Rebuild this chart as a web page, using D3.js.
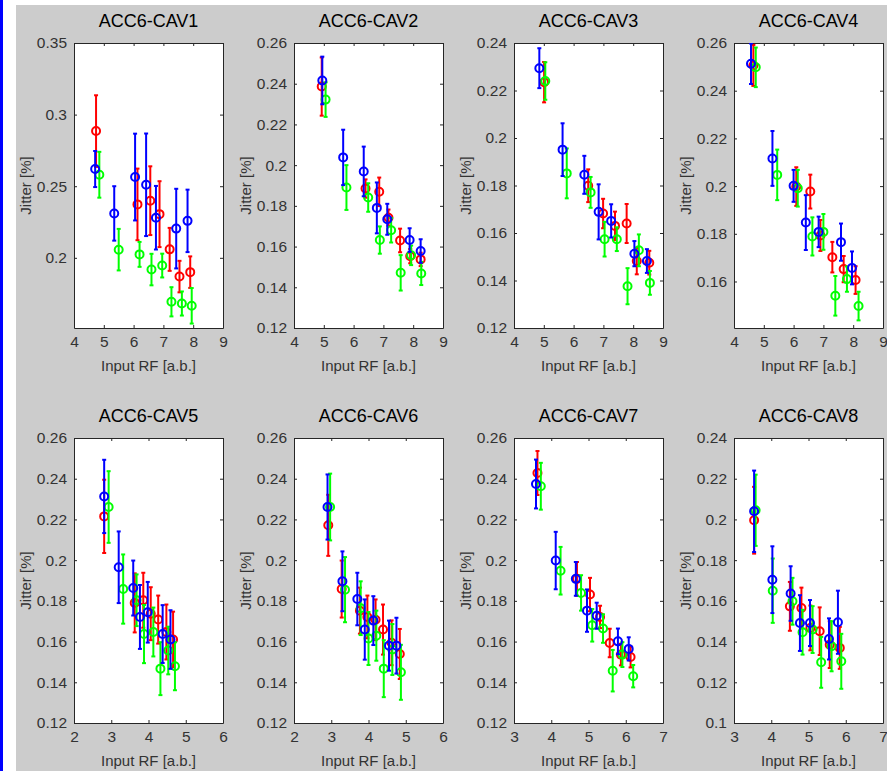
<!DOCTYPE html>
<html>
<head>
<meta charset="utf-8">
<script src="https://cdn.jsdelivr.net/npm/d3@7"></script>
<style>
  html, body { margin: 0; padding: 0; background: #fff; overflow: hidden; }
  svg { display: block; font-family: "Liberation Sans", Arial, sans-serif; }
</style>
</head>
<body>
<div id="fig"></div>
<script>
// panel titles, axis ranges and ticks
var titles = ["ACC6-CAV1", "ACC6-CAV2", "ACC6-CAV3", "ACC6-CAV4",
              "ACC6-CAV5", "ACC6-CAV6", "ACC6-CAV7", "ACC6-CAV8"];
var xDomains = [[4, 9], [4, 9], [4, 9], [4, 9], [2, 6], [2, 6], [3, 7], [3, 7]];
var xTicks = [[4, 5, 6, 7, 8, 9], [4, 5, 6, 7, 8, 9], [4, 5, 6, 7, 8, 9], [4, 5, 6, 7, 8, 9],
              [2, 3, 4, 5, 6], [2, 3, 4, 5, 6], [3, 4, 5, 6, 7], [3, 4, 5, 6, 7]];
var yDomains = [[0.151, 0.35], [0.12, 0.26], [0.12, 0.24], [0.1405, 0.26],
                [0.12, 0.26], [0.12, 0.26], [0.12, 0.26], [0.1, 0.24]];
var yTicks = [[0.2, 0.25, 0.3, 0.35],
              [0.12, 0.14, 0.16, 0.18, 0.2, 0.22, 0.24, 0.26],
              [0.12, 0.14, 0.16, 0.18, 0.2, 0.22, 0.24],
              [0.16, 0.18, 0.2, 0.22, 0.24, 0.26],
              [0.12, 0.14, 0.16, 0.18, 0.2, 0.22, 0.24, 0.26],
              [0.12, 0.14, 0.16, 0.18, 0.2, 0.22, 0.24, 0.26],
              [0.12, 0.14, 0.16, 0.18, 0.2, 0.22, 0.24, 0.26],
              [0.1, 0.12, 0.14, 0.16, 0.18, 0.2, 0.22, 0.24]];

// [input RF, jitter, error] per series
var cav1Red = [[4.74, 0.2885, 0.025], [6.13, 0.2373, 0.025], [6.56, 0.2399, 0.024], [6.87, 0.2305, 0.023], [7.21, 0.2059, 0.015], [7.54, 0.1869, 0.011], [7.90, 0.19, 0.011]];
var cav1Green = [[4.85, 0.258, 0.016], [5.50, 0.2057, 0.0145], [6.20, 0.2024, 0.0087], [6.60, 0.1918, 0.011], [6.96, 0.1946, 0.0083], [7.27, 0.1693, 0.0102], [7.62, 0.1681, 0.0084], [7.95, 0.1665, 0.0124]];
var cav1Blue = [[4.71, 0.262, 0.0126], [5.35, 0.231, 0.019], [6.05, 0.2564, 0.0303], [6.42, 0.251, 0.0358], [6.75, 0.228, 0.0222], [7.43, 0.2204, 0.0278], [7.81, 0.2258, 0.0218]];

var cav2Red = [[4.93, 0.2386, 0.0143], [6.40, 0.1885, 0.0045], [6.86, 0.1869, 0.007], [7.17, 0.1742, 0.004], [7.56, 0.163, 0.0058], [7.90, 0.1553, 0.0035], [8.25, 0.1537, 0.0033]];
var cav2Green = [[5.06, 0.2322, 0.0085], [5.76, 0.189, 0.011], [6.49, 0.1841, 0.007], [6.88, 0.1632, 0.0067], [7.26, 0.168, 0.006], [7.58, 0.1471, 0.0087], [7.93, 0.1557, 0.0048], [8.27, 0.1468, 0.0057]];
var cav2Blue = [[4.95, 0.2416, 0.0117], [5.65, 0.2038, 0.0136], [6.34, 0.1969, 0.0122], [6.78, 0.179, 0.0125], [7.13, 0.1734, 0.0076], [7.88, 0.1632, 0.0058], [8.25, 0.1578, 0.0058]];

var cav3Red = [[5.01, 0.2235, 0.0085], [6.49, 0.1799, 0.0069], [6.99, 0.1682, 0.0062], [7.39, 0.163, 0.006], [7.78, 0.164, 0.0082], [8.12, 0.1482, 0.0056], [8.54, 0.1475, 0.005]];
var cav3Green = [[5.05, 0.224, 0.0079], [5.77, 0.1851, 0.0105], [6.57, 0.1771, 0.0065], [7.04, 0.1574, 0.0073], [7.45, 0.1574, 0.005], [7.81, 0.1376, 0.0076], [8.19, 0.1527, 0.0067], [8.56, 0.139, 0.005]];
var cav3Blue = [[4.85, 0.2294, 0.0084], [5.63, 0.1951, 0.0111], [6.36, 0.1845, 0.008], [6.84, 0.1689, 0.0116], [7.26, 0.1651, 0.007], [8.04, 0.1513, 0.0053], [8.46, 0.1482, 0.005]];

var cav4Red = [[4.65, 0.2506, 0.0086], [6.09, 0.1998, 0.0081], [6.56, 0.1977, 0.0071], [6.90, 0.1793, 0.0065], [7.30, 0.1702, 0.0064], [7.68, 0.1652, 0.0055], [8.08, 0.1606, 0.0058]];
var cav4Green = [[4.73, 0.2498, 0.0083], [5.45, 0.2047, 0.0106], [6.14, 0.1991, 0.0077], [6.63, 0.1789, 0.008], [7.00, 0.1808, 0.0075], [7.40, 0.154, 0.0083], [7.79, 0.161, 0.0053], [8.18, 0.1497, 0.006]];
var cav4Blue = [[4.57, 0.2513, 0.0085], [5.29, 0.2116, 0.0115], [6.00, 0.2001, 0.0067], [6.41, 0.1847, 0.0115], [6.84, 0.1808, 0.0064], [7.59, 0.1765, 0.0078], [7.96, 0.1657, 0.0069]];

var cav5Red = [[2.81, 0.2215, 0.018], [3.63, 0.179, 0.0145], [3.86, 0.1803, 0.0135], [4.06, 0.1737, 0.013], [4.26, 0.1708, 0.0118], [4.48, 0.1647, 0.0135], [4.66, 0.161, 0.0137]];
var cav5Green = [[2.93, 0.2261, 0.0176], [3.32, 0.1858, 0.017], [3.68, 0.1803, 0.0127], [3.88, 0.1637, 0.0143], [4.13, 0.1647, 0.012], [4.32, 0.1467, 0.013], [4.53, 0.1556, 0.0117], [4.71, 0.1479, 0.0118]];
var cav5Blue = [[2.81, 0.2313, 0.018], [3.20, 0.1965, 0.0176], [3.59, 0.1863, 0.0135], [3.77, 0.1721, 0.0157], [3.98, 0.1744, 0.0149], [4.38, 0.1637, 0.0142], [4.59, 0.161, 0.0144]];

var cav6Red = [[2.92, 0.2171, 0.015], [3.28, 0.1858, 0.014], [3.77, 0.1752, 0.0113], [3.97, 0.1721, 0.0105], [4.19, 0.1707, 0.01], [4.39, 0.1659, 0.0123], [4.62, 0.1594, 0.011], [4.84, 0.1539, 0.0123]];
var cav6Green = [[2.97, 0.2261, 0.0164], [3.37, 0.1855, 0.016], [3.79, 0.1764, 0.0132], [4.00, 0.1615, 0.013], [4.21, 0.1629, 0.0123], [4.41, 0.1467, 0.014], [4.64, 0.1561, 0.0125], [4.87, 0.1449, 0.0135]];
var cav6Blue = [[2.90, 0.2261, 0.016], [3.30, 0.1896, 0.0147], [3.70, 0.1809, 0.0129], [3.90, 0.1659, 0.0148], [4.13, 0.1703, 0.012], [4.55, 0.158, 0.0123], [4.75, 0.158, 0.0137]];

var cav7Red = [[3.63, 0.2428, 0.0108], [4.69, 0.1908, 0.0083], [5.04, 0.1831, 0.0082], [5.31, 0.1721, 0.0055], [5.57, 0.1593, 0.007], [5.87, 0.1536, 0.0053], [6.13, 0.1524, 0.0051]];
var cav7Green = [[3.72, 0.2363, 0.0115], [4.25, 0.1948, 0.0117], [4.80, 0.1839, 0.0087], [5.10, 0.168, 0.008], [5.39, 0.1664, 0.007], [5.65, 0.1457, 0.0102], [5.91, 0.1536, 0.0061], [6.20, 0.143, 0.0055]];
var cav7Blue = [[3.59, 0.2374, 0.012], [4.12, 0.1998, 0.0141], [4.66, 0.1908, 0.0083], [4.96, 0.1752, 0.0104], [5.22, 0.1727, 0.0064], [5.79, 0.1601, 0.0063], [6.08, 0.1564, 0.0057]];

var cav8Red = [[3.54, 0.1996, 0.0164], [4.50, 0.1573, 0.012], [4.81, 0.1565, 0.01], [5.05, 0.1467, 0.011], [5.30, 0.1451, 0.0117], [5.57, 0.1385, 0.0115], [5.84, 0.1369, 0.0103]];
var cav8Green = [[3.58, 0.2045, 0.0175], [4.04, 0.165, 0.0158], [4.57, 0.1598, 0.0115], [4.84, 0.1446, 0.011], [5.11, 0.1459, 0.0115], [5.34, 0.1298, 0.0125], [5.62, 0.1377, 0.0123], [5.88, 0.1303, 0.0135]];
var cav8Blue = [[3.54, 0.204, 0.02], [4.03, 0.1704, 0.0164], [4.52, 0.1636, 0.0134], [4.77, 0.1491, 0.0137], [5.04, 0.1491, 0.0113], [5.55, 0.1413, 0.0101], [5.79, 0.1495, 0.0155]];

var seriesColors = ["#ff0000", "#00ff00", "#0000ff"];
var panelSeries = [
  [cav1Red, cav1Green, cav1Blue], [cav2Red, cav2Green, cav2Blue],
  [cav3Red, cav3Green, cav3Blue], [cav4Red, cav4Green, cav4Blue],
  [cav5Red, cav5Green, cav5Blue], [cav6Red, cav6Green, cav6Blue],
  [cav7Red, cav7Green, cav7Blue], [cav8Red, cav8Green, cav8Blue]
];

var width = 887, height = 771;
var plotW = 149, plotH = 285;
var left0 = 74, colStep = 220;
var top0 = 43, rowStep = 395;
var tickLen = 3;

var svg = d3.select("#fig").append("svg")
  .attr("width", width)
  .attr("height", height);

// figure frame: blue strip, white margin, grey figure
svg.append("rect").attr("width", width).attr("height", height).attr("fill", "#fff");
svg.append("rect").attr("x", 0).attr("y", 0).attr("width", 3).attr("height", height).attr("fill", "#0000ff");
svg.append("rect").attr("x", 16).attr("y", 5).attr("width", width - 16).attr("height", height - 5).attr("fill", "#cccccc");

function fmt(v) { return String(+v.toFixed(3)); }

titles.forEach(function (title, i) {
  var col = i % 4, row = Math.floor(i / 4);
  var px = left0 + col * colStep, py = top0 + row * rowStep;

  var x = d3.scaleLinear().domain(xDomains[i]).range([0, plotW]);
  var y = d3.scaleLinear().domain(yDomains[i]).range([plotH, 0]);

  var g = svg.append("g").attr("transform", "translate(" + px + "," + py + ")");

  g.append("rect").attr("width", plotW).attr("height", plotH).attr("fill", "#fff");

  var clipId = "clip" + i;
  g.append("clipPath").attr("id", clipId)
    .append("rect").attr("width", plotW).attr("height", plotH);

  // axes: labels on bottom/left, inward ticks on all four sides
  var axB = g.append("g").attr("transform", "translate(0," + plotH + ")")
    .call(d3.axisBottom(x).tickValues(xTicks[i]).tickSizeInner(-tickLen).tickSizeOuter(0).tickPadding(8).tickFormat(fmt));
  var axT = g.append("g")
    .call(d3.axisTop(x).tickValues(xTicks[i]).tickSizeInner(-tickLen).tickSizeOuter(0).tickFormat(""));
  var axL = g.append("g")
    .call(d3.axisLeft(y).tickValues(yTicks[i]).tickSizeInner(-tickLen).tickSizeOuter(0).tickPadding(7).tickFormat(fmt));
  var axR = g.append("g").attr("transform", "translate(" + plotW + ",0)")
    .call(d3.axisRight(y).tickValues(yTicks[i]).tickSizeInner(-tickLen).tickSizeOuter(0).tickFormat(""));

  [axB, axT, axL, axR].forEach(function (a) {
    a.select(".domain").attr("stroke", "#262626");
    a.selectAll(".tick line").attr("stroke", "#262626");
    a.selectAll(".tick text").attr("fill", "#333").attr("font-size", 15.5);
  });

  // data
  var marks = g.append("g").attr("clip-path", "url(#" + clipId + ")");
  panelSeries[i].forEach(function (pts, s) {
    var c = seriesColors[s];
    var sg = marks.append("g");
    var bars = sg.selectAll(".eb").data(pts).enter().append("g");
    bars.append("line")
      .attr("x1", function (d) { return x(d[0]); })
      .attr("x2", function (d) { return x(d[0]); })
      .attr("y1", function (d) { return y(d[1] - d[2]); })
      .attr("y2", function (d) { return y(d[1] + d[2]); })
      .attr("stroke", c).attr("stroke-width", 2);
    [-1, 1].forEach(function (k) {
      bars.append("line")
        .attr("x1", function (d) { return x(d[0]) - 2; })
        .attr("x2", function (d) { return x(d[0]) + 2; })
        .attr("y1", function (d) { return y(d[1] + k * d[2]); })
        .attr("y2", function (d) { return y(d[1] + k * d[2]); })
        .attr("stroke", c).attr("stroke-width", 2);
    });
    sg.selectAll("circle").data(pts).enter().append("circle")
      .attr("cx", function (d) { return x(d[0]); })
      .attr("cy", function (d) { return y(d[1]); })
      .attr("r", 4)
      .attr("fill", "none")
      .attr("stroke", c).attr("stroke-width", 2);
  });

  // title and axis labels
  g.append("text")
    .attr("x", plotW / 2).attr("y", -16)
    .attr("text-anchor", "middle")
    .attr("font-size", 18).attr("fill", "#000")
    .text(title);
  g.append("text")
    .attr("x", plotW / 2).attr("y", plotH + 43)
    .attr("text-anchor", "middle")
    .attr("font-size", 15).attr("fill", "#333")
    .text("Input RF [a.b.]");
  g.append("text")
    .attr("transform", "translate(-43," + (plotH / 2) + ") rotate(-90)")
    .attr("text-anchor", "middle")
    .attr("font-size", 15).attr("fill", "#333")
    .text("Jitter [%]");
});
</script>
</body>
</html>
